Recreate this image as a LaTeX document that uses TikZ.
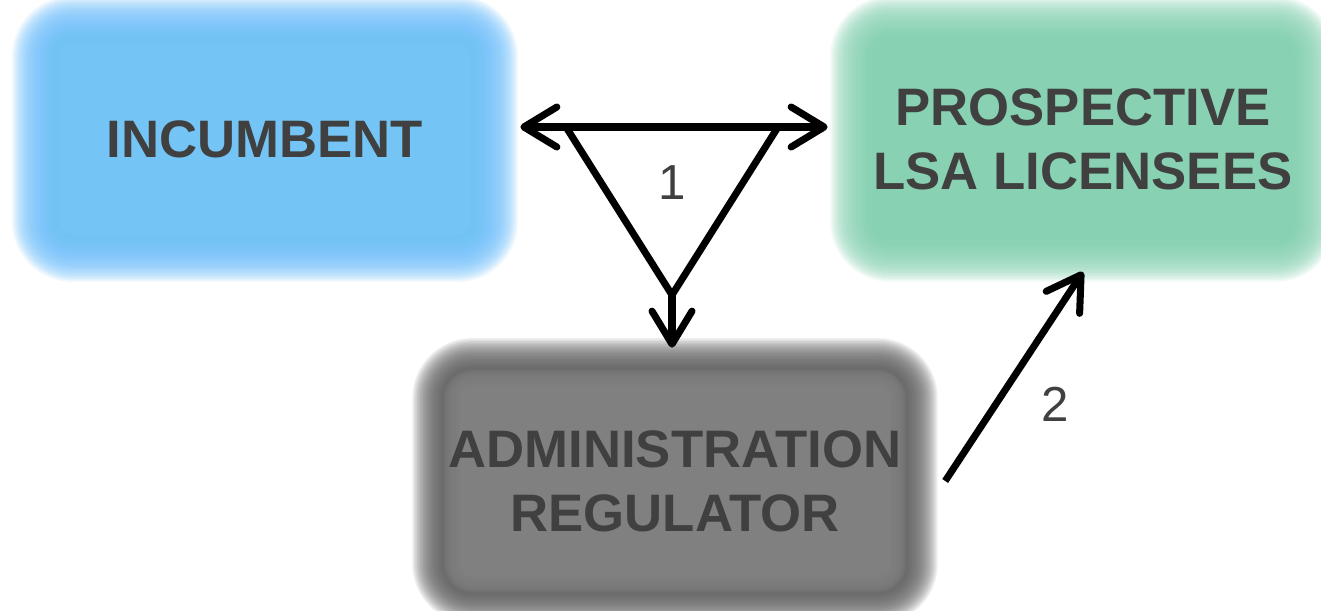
\documentclass[tikz,border=0pt]{standalone}
\usepackage{fontspec}
\setmainfont{Liberation Sans}
\usepackage{tikz}
\usetikzlibrary{positioning,calc,arrows.meta,backgrounds}
\definecolor{incrim}{HTML}{6FBEFA}
\definecolor{inccore}{HTML}{74C5F5}
\definecolor{lsagreen}{HTML}{88D1B2}
\definecolor{regrim}{HTML}{5A5A5A}
\definecolor{reggray}{HTML}{808080}
\definecolor{txtgray}{HTML}{404040}
\tikzstyle{party} = [rectangle, minimum width=8.9cm, minimum height=4.5cm, align=center, text=txtgray, font=\fontsize{30}{36.5}\selectfont\bfseries]
\tikzstyle{link} = [line width=4pt, line join=miter]
\tikzstyle{arrow} = [link, -{Straight Barb[length=0.66cm,width=0.8cm,round]}]
\tikzstyle{biarrow} = [link, {Straight Barb[length=0.66cm,width=0.8cm,round]}-{Straight Barb[length=0.66cm,width=0.8cm,round]}]
\tikzstyle{steplabel} = [text=txtgray, font=\fontsize{28}{30}\selectfont]
% blurred box behind a node: #1 node, #2 rim colour, #3 core colour
\newcommand{\softbox}[3]{%
  \foreach \k in {0,...,20}{
    \pgfmathsetmacro{\r}{0.6-0.03*\k}
    \pgfmathsetmacro{\rc}{0.6+\r}
    \fill[#2, opacity=0.1, rounded corners=\rc cm]
      ([shift={(-\r,-\r)}]#1.south west) rectangle ([shift={(\r,\r)}]#1.north east);
  }
  \foreach \k in {1,...,11}{
    \pgfmathsetmacro{\r}{-0.03*\k}
    \pgfmathsetmacro{\rc}{0.6+\r}
    \fill[#3, opacity=0.25, rounded corners=\rc cm]
      ([shift={(-\r,-\r)}]#1.south west) rectangle ([shift={(\r,\r)}]#1.north east);
  }
  \fill[#3, rounded corners=0.25cm] ([shift={(0.35,0.35)}]#1.south west) rectangle ([shift={(-0.35,-0.35)}]#1.north east);
}

\begin{document}
\begin{tikzpicture}
    \useasboundingbox (0,0) rectangle (26.42,12.2);
    % Parties
    \node[party] (inc) at (5.30,9.42) {INCUMBENT};
    \node[party] (lsa) at (21.66,9.42) {PROSPECTIVE\\LSA LICENSEES};
    \node[party] (reg) at (13.50,2.58) {ADMINISTRATION\\REGULATOR};

    \begin{scope}[on background layer]
        \softbox{inc}{incrim}{inccore}
        \softbox{lsa}{lsagreen}{lsagreen}
        \softbox{reg}{regrim}{reggray}
    \end{scope}

    % Triangle
    \coordinate (tl) at (11.32,9.66);
    \coordinate (tr) at (15.56,9.66);
    \coordinate (bt) at (13.44,6.30);
    \coordinate (incR) at ($(inc.east |- tl)+(0.65,0)$);
    \coordinate (lsaL) at ($(lsa.west |- tl)+(-0.65,0)$);
    \coordinate (regT) at ($(bt |- reg.north)+(0,0.41)$);

    % Messages
    \draw[biarrow] (incR) -- (lsaL);
    \draw[link] (tl) -- (bt) -- (tr);
    \draw[arrow] (bt) -- (regT);
    \node[steplabel] (one) at (barycentric cs:tl=1,tr=1,bt=1) {1};

    \coordinate (regR) at ($(reg.east)+(0.75,0)$);
    \coordinate (lsaB) at ($(lsa.south)+(0,-0.4)$);
    \draw[arrow] (regR) -- node[steplabel, shift={(0.83,-0.56)}] (two) {2} (lsaB);
\end{tikzpicture}
\end{document}
